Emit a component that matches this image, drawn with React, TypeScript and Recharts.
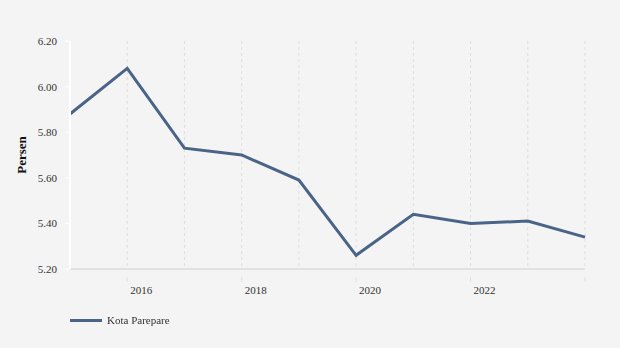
import React from "react";
import { LineChart, Line, XAxis, YAxis, CartesianGrid, Legend } from "recharts";

const YEARS = [2015, 2016, 2017, 2018, 2019, 2020, 2021, 2022, 2023, 2024];
const VALUES = [5.88, 6.08, 5.73, 5.7, 5.59, 5.26, 5.44, 5.4, 5.41, 5.34];
const Y_TICKS = [5.2, 5.4, 5.6, 5.8, 6.0, 6.2];
const LABELED_YEARS = [2016, 2018, 2020, 2022];
const MARKED_YEARS = [2016, 2018, 2020, 2022, 2024];
const SERIES_NAME = "Kota Parepare";

const data = YEARS.map((y, i) => ({ year: y, value: VALUES[i] }));

const FONT = "'Liberation Serif', 'Times New Roman', serif";
const LINE_COLOR = "#4a6488";

function YearTick(props: any) {
  const { x, y, payload } = props;
  const v = payload.value;
  return (
    <g>
      {MARKED_YEARS.includes(v) && (
        <line x1={x} y1={y} x2={x} y2={y + 5} stroke="#e2e2e2" strokeWidth={1} />
      )}
      {LABELED_YEARS.includes(v) && (
        <text x={x + 3} y={y + 17} textAnchor="start" fontSize={11} fill="#333" fontFamily={FONT}>
          {v}
        </text>
      )}
    </g>
  );
}

function LegendContent() {
  return (
    <div style={{ display: "flex", alignItems: "center", fontFamily: FONT, fontSize: 11, color: "#333" }}>
      <span style={{ display: "inline-block", width: 32, height: 3, background: LINE_COLOR, marginRight: 5 }} />
      <span>{SERIES_NAME}</span>
    </div>
  );
}

export default function App() {
  return (
    <div style={{ position: "fixed", left: 0, top: 0, width: 620, height: 348, background: "#f4f4f4" }}>
      <LineChart width={620} height={348} data={data} margin={{ top: 41, right: 35, bottom: 33, left: 0 }}>
        <CartesianGrid vertical horizontal={false} stroke="#dedede" strokeDasharray="3 3" />
        <XAxis
          dataKey="year"
          type="number"
          domain={[2015, 2024]}
          ticks={YEARS}
          interval={0}
          height={30}
          axisLine={{ stroke: "#e2e2e2", strokeWidth: 2 }}
          tickLine={false}
          tick={<YearTick />}
        />
        <YAxis
          width={70}
          domain={[5.2, 6.2]}
          ticks={Y_TICKS}
          tickFormatter={(v: number) => v.toFixed(2)}
          axisLine={{ stroke: "#ffffff", strokeWidth: 2 }}
          tickLine={{ stroke: "#ffffff" }}
          tickSize={5}
          tickMargin={8}
          tick={{ fontSize: 11, fill: "#333", fontFamily: FONT }}
          label={{
            value: "Persen",
            angle: -90,
            position: "insideLeft",
            offset: 21,
            style: { fontSize: 13, fontWeight: "bold", fill: "#111", fontFamily: FONT, textAnchor: "middle" },
          }}
        />
        <Legend
          verticalAlign="bottom"
          align="left"
          content={<LegendContent />}
          wrapperStyle={{ left: 70, bottom: 18, height: 16 }}
        />
        <Line
          dataKey="value"
          name={SERIES_NAME}
          stroke={LINE_COLOR}
          strokeWidth={3}
          dot={false}
          activeDot={false}
          isAnimationActive={false}
        />
      </LineChart>
    </div>
  );
}
